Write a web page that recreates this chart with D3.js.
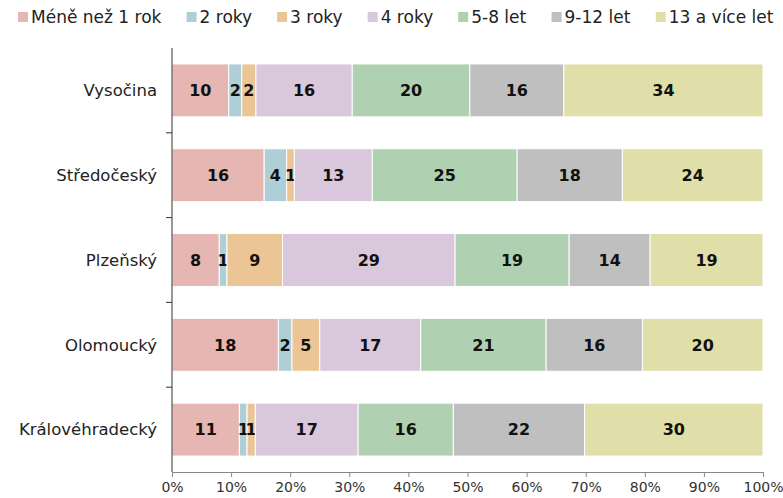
<!DOCTYPE html>
<html>
<head>
<meta charset="utf-8">
<script src="https://cdn.jsdelivr.net/npm/d3@7"></script>
<style>
  body { margin: 0; background: #fff; }
  svg { font-family: "DejaVu Sans", Verdana, sans-serif; }
  .cat-label { font-size: 16.5px; fill: #222; }
  .value-label { font-size: 16px; font-weight: bold; fill: #111; }
  .legend-label { font-size: 17px; fill: #222; }
  .x-axis text { font-size: 14px; fill: #333; font-family: "DejaVu Sans", Verdana, sans-serif; }
</style>
</head>
<body>
<svg id="chart"></svg>
<script>
// data (percent of each region)
const regions = ["Vysočina", "Středočeský", "Plzeňský", "Olomoucký", "Královéhradecký"];
const ageGroups = ["Méně než 1 rok", "2 roky", "3 roky", "4 roky", "5-8 let", "9-12 let", "13 a více let"];

const lessThan1 = [9.6, 15.6, 8.0, 18.0, 11.4];
const years2 = [2.2, 3.8, 1.3, 2.3, 1.3];
const years3 = [2.4, 1.3, 9.4, 4.7, 1.4];
const years4 = [16.3, 13.2, 29.2, 17.1, 17.4];
const years5to8 = [19.9, 24.5, 19.3, 21.2, 16.1];
const years9to12 = [15.9, 17.8, 13.7, 16.3, 22.2];
const years13plus = [33.7, 23.8, 19.1, 20.4, 30.2];

const xTicks = [0, 0.1, 0.2, 0.3, 0.4, 0.5, 0.6, 0.7, 0.8, 0.9, 1];

const seriesValues = [lessThan1, years2, years3, years4, years5to8, years9to12, years13plus];
const colors = ["#e6b7b2", "#afcfd7", "#ecc596", "#d9c7dc", "#afd1b1", "#bfbfbf", "#e1dfa9"];

// build rows for d3.stack
const rows = regions.map((r, i) => {
    const row = { region: r };
    ageGroups.forEach((g, j) => { row[g] = seriesValues[j][i]; });
    return row;
});

const margin = { top: 48, right: 20, bottom: 26, left: 172 };
const width = 783 - margin.left - margin.right;
const height = 498 - margin.top - margin.bottom;

const root = d3.select("#chart")
    .attr("width", 783)
    .attr("height", 498);

const svg = root.append("g")
    .attr("transform", `translate(${margin.left},${margin.top})`);

const xScale = d3.scaleLinear().domain([0, 1]).range([0, width]);

const yScale = d3.scaleBand()
    .domain(regions)
    .range([0, height])
    .paddingInner(0.376)
    .paddingOuter(0.188);

const colorScale = d3.scaleOrdinal().domain(ageGroups).range(colors);

const stacked = d3.stack()
    .keys(ageGroups)
    .offset(d3.stackOffsetExpand)(rows);

// bars
const layers = svg.append("g")
    .selectAll("g")
    .data(stacked)
    .join("g")
    .attr("fill", d => colorScale(d.key));

layers.selectAll("rect")
    .data(d => d.map(v => Object.assign(v, { key: d.key })))
    .join("rect")
    .attr("x", d => xScale(d[0]))
    .attr("y", d => yScale(d.data.region))
    .attr("width", d => xScale(d[1]) - xScale(d[0]))
    .attr("height", yScale.bandwidth())
    .attr("stroke", "#fff")
    .attr("stroke-width", 1);

// value labels
layers.selectAll("text")
    .data(d => d)
    .join("text")
    .attr("class", "value-label")
    .attr("x", d => xScale((d[0] + d[1]) / 2))
    .attr("y", d => yScale(d.data.region) + yScale.bandwidth() / 2)
    .attr("dy", "0.36em")
    .attr("text-anchor", "middle")
    .text(d => Math.round(d.data[d.key]));

// x axis
const xAxis = svg.append("g")
    .attr("class", "x-axis")
    .attr("transform", `translate(0,${height})`)
    .call(d3.axisBottom(xScale).tickValues(xTicks).tickFormat(d3.format(".0%")).tickSize(5).tickSizeOuter(0));
xAxis.select(".domain").attr("stroke", "#868686");
xAxis.selectAll(".tick line").attr("stroke", "#868686");
xAxis.selectAll(".tick text").attr("dy", "0.85em");

// y axis: line plus ticks between categories
const step = yScale.step();
const yAxis = svg.append("g").attr("class", "y-axis");
yAxis.append("line")
    .attr("x1", 0).attr("x2", 0)
    .attr("y1", 0).attr("y2", height)
    .attr("stroke", "#333");
yAxis.selectAll(".ytick")
    .data(regions.slice(1))
    .join("line")
    .attr("class", "ytick")
    .attr("x1", -6).attr("x2", 0)
    .attr("y1", d => yScale(d) - step * yScale.paddingInner() / 2)
    .attr("y2", d => yScale(d) - step * yScale.paddingInner() / 2)
    .attr("stroke", "#333");
yAxis.selectAll(".cat-label")
    .data(regions)
    .join("text")
    .attr("class", "cat-label")
    .attr("x", -15)
    .attr("y", d => yScale(d) + yScale.bandwidth() / 2)
    .attr("dy", "0.35em")
    .attr("text-anchor", "end")
    .text(d => d);

// legend
const legend = root.append("g").attr("transform", "translate(18, 17)");
let cumulativeWidth = 0;
legend.selectAll("g")
    .data(ageGroups)
    .join("g")
    .each(function (d) {
        const g = d3.select(this);
        g.append("rect")
            .attr("x", 0).attr("y", -5)
            .attr("width", 10).attr("height", 10)
            .attr("fill", colorScale(d));
        g.append("text")
            .attr("class", "legend-label")
            .attr("x", 13)
            .attr("dy", "0.35em")
            .text(d);
        const itemWidth = this.getBBox().width;
        g.attr("transform", `translate(${cumulativeWidth},0)`);
        cumulativeWidth += itemWidth + 25;
    });
</script>
</body>
</html>
